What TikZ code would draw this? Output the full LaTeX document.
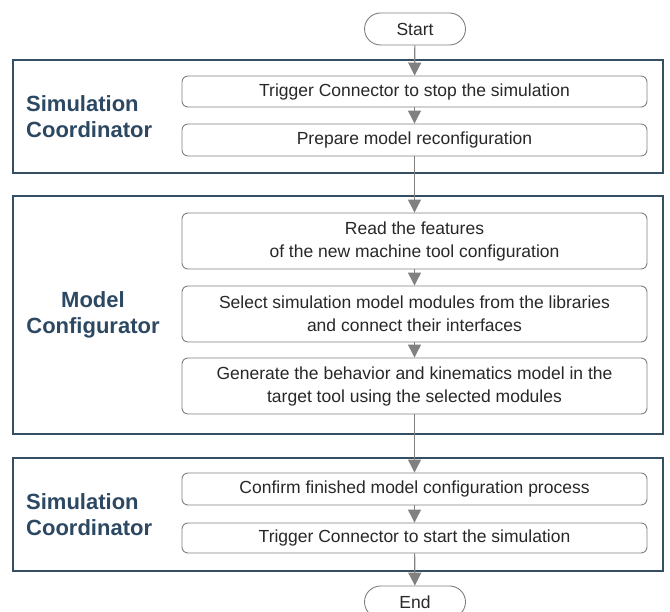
\documentclass[tikz,border=0pt]{standalone}
\usepackage{fontspec}
\setmainfont{Liberation Sans}
\usepackage{tikz}
\usetikzlibrary{arrows.meta,shapes.misc}
\definecolor{framecol}{RGB}{52,78,100}
\definecolor{labelcol}{RGB}{44,72,98}
\definecolor{boxcol}{RGB}{128,128,128}
\definecolor{flowcol}{RGB}{128,128,128}
\definecolor{textcol}{RGB}{40,40,40}
\tikzset{
	stepbox/.style={draw=boxcol, line width=0.9pt, rounded corners=6pt, fill=white,
		minimum width=465pt, inner sep=0pt, align=center, text=textcol,
		font=\fontsize{17.5}{23}\selectfont},
	terminal/.style={draw=boxcol, line width=0.9pt, rounded rectangle, fill=white,
		minimum width=101pt, minimum height=32pt, inner sep=0pt, text=textcol,
		font=\fontsize{17.5}{23}\selectfont},
	group/.style={draw=framecol, line width=2.2pt},
	grouplabel/.style={text=labelcol, inner sep=0pt, font=\fontsize{22}{26}\selectfont\bfseries},
	flow/.style={draw=flowcol, line width=1.2pt, -{Triangle[width=13pt,length=13pt]}}
}
\begin{document}
\begin{tikzpicture}[x=1pt,y=-1pt]
	\useasboundingbox (0,0) rectangle (670,612);
	\draw[group] (13,60) rectangle (663,173);
	\draw[group] (13,196) rectangle (663,434);
	\draw[group] (13,458) rectangle (663,571);
	\node[grouplabel, anchor=west, align=left] (simA) at (26,116.5) {Simulation\\Coordinator};
	\node[grouplabel, align=center] (model) at (93,315) {Model\\Configurator};
	\node[grouplabel, anchor=west, align=left] (simB) at (26,514.5) {Simulation\\Coordinator};
	\node[terminal] (start) at (415,29) {Start};
	\node[stepbox, minimum height=31pt] (stop) at (414.5,91.5) {Trigger Connector to stop the simulation};
	\node[stepbox, minimum height=32pt] (prep) at (414.5,140) {Prepare model reconfiguration};
	\node[stepbox, minimum height=56pt] (read) at (414.5,241) {Read the features\\of the new machine tool configuration};
	\node[stepbox, minimum height=56pt] (select) at (414.5,314) {Select simulation model modules from the libraries\\and connect their interfaces};
	\node[stepbox, minimum height=56pt] (gen) at (414.5,386) {Generate the behavior and kinematics model in the\\target tool using the selected modules};
	\node[stepbox, minimum height=32pt] (confirm) at (414.5,489) {Confirm finished model configuration process};
	\node[stepbox, minimum height=30pt] (go) at (414.5,538) {Trigger Connector to start the simulation};
	\node[terminal] (end) at (415,602) {End};
	\draw[flow] (start) -- (stop);
	\draw[flow] (stop) -- (prep);
	\draw[flow] (prep) -- (read);
	\draw[flow] (read) -- (select);
	\draw[flow] (select) -- (gen);
	\draw[flow] (gen) -- (confirm);
	\draw[flow] (confirm) -- (go);
	\draw[flow] (go) -- (end);
\end{tikzpicture}
\end{document}
